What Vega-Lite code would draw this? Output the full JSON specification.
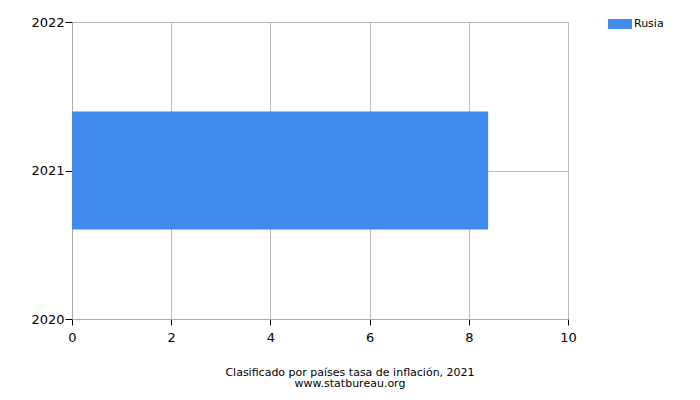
{
  "$schema": "https://vega.github.io/schema/vega-lite/v6.json",
  "width": 496,
  "height": 297,
  "autosize": "none",
  "padding": {"left": 72, "top": 22, "right": 132, "bottom": 81},
  "background": "white",
  "data": {
    "values": [
      {"country": "Rusia", "year": 2021, "rate": 8.39}
    ]
  },
  "title": {
    "text": ["Clasificado por países tasa de inflación, 2021", "www.statbureau.org"],
    "orient": "bottom",
    "anchor": "middle",
    "dx": 30,
    "offset": 23,
    "font": "DejaVu Sans",
    "fontSize": 11,
    "fontWeight": "normal",
    "lineHeight": 11,
    "color": "#000000"
  },
  "mark": {"type": "bar", "size": 118, "orient": "horizontal"},
  "encoding": {
    "y": {
      "field": "year",
      "type": "quantitative",
      "scale": {"domain": [2020, 2022], "nice": false, "zero": false, "padding": 0},
      "axis": {
        "title": null,
        "values": [2020, 2021, 2022],
        "tickCount": 10,
        "tickMinStep": 0.1,
        "format": "d",
        "labelOverlap": false,
        "labelFont": "DejaVu Sans",
        "labelFontSize": 13,
        "labelColor": "#000000",
        "tickColor": "#000000",
        "tickSize": 7,
        "labelPadding": 1,
        "domainColor": "#aaaaaa",
        "gridColor": "#bbbbbb",
        "gridOpacity": 1
      }
    },
    "x": {
      "field": "rate",
      "type": "quantitative",
      "scale": {"domain": [0, 10], "nice": false},
      "axis": {
        "title": null,
        "values": [0, 2, 4, 6, 8, 10],
        "tickCount": 10,
        "labelFont": "DejaVu Sans",
        "labelFontSize": 13,
        "labelColor": "#000000",
        "tickColor": "#000000",
        "tickSize": 6,
        "labelPadding": 6,
        "domainColor": "#aaaaaa",
        "gridColor": "#bbbbbb",
        "gridOpacity": 1,
        "labelFlush": false
      }
    },
    "color": {
      "field": "country",
      "type": "nominal",
      "scale": {"range": ["#418BEF"]},
      "legend": {
        "title": null,
        "orient": "none",
        "legendX": 538,
        "legendY": -8,
        "symbolType": "M-1.2,-0.5H1.2V0.5H-1.2Z",
        "symbolSize": 400,
        "symbolStrokeWidth": 0,
        "labelOffset": 4,
        "labelFont": "DejaVu Sans",
        "labelFontSize": 11,
        "labelColor": "#000000"
      }
    }
  },
  "config": {
    "view": {"stroke": "#aaaaaa", "strokeWidth": 1}
  }
}
